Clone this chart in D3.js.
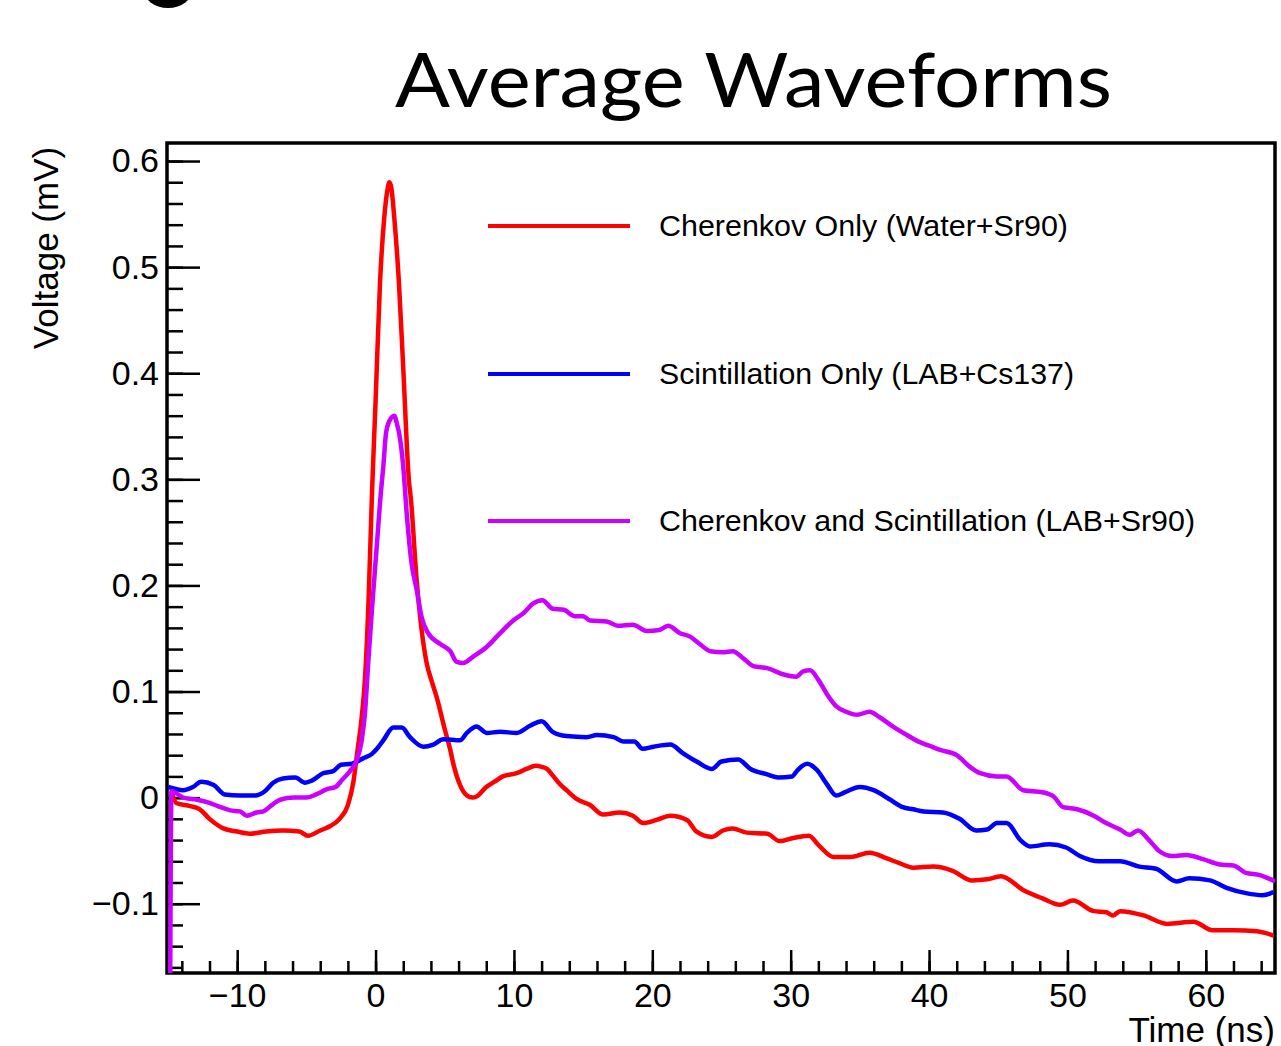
<!DOCTYPE html>
<html>
<head>
<meta charset="utf-8">
<script src="https://cdn.jsdelivr.net/npm/d3@7.9.0/dist/d3.min.js"></script>
<style>
  html, body { margin: 0; padding: 0; background: #fff; overflow: hidden; }
  svg { display: block; }
</style>
</head>
<body>
<svg id="chart"></svg>
<script>
// time (ns), voltage (mV)
const cherenkovOnly = [
  [-14.75, 0.006], [-14.4, -0.005], [-13.4, -0.008], [-12.7, -0.011], [-12.0, -0.020],
  [-11.0, -0.029], [-10.0, -0.032], [-9.1, -0.034], [-7.9, -0.032], [-6.7, -0.031],
  [-5.5, -0.032], [-4.9, -0.036], [-4.0, -0.031], [-3.3, -0.027], [-2.6, -0.020],
  [-2.0, -0.007], [-1.6, 0.015], [-1.35, 0.040], [-1.0, 0.076], [-0.77, 0.111],
  [-0.5, 0.188], [-0.25, 0.290], [0.0, 0.373], [0.32, 0.485], [0.63, 0.547],
  [0.85, 0.572], [1.0, 0.580], [1.15, 0.574], [1.35, 0.547], [1.69, 0.485],
  [2.0, 0.405], [2.41, 0.299], [2.55, 0.282], [2.97, 0.205], [3.33, 0.158],
  [3.69, 0.127], [4.05, 0.110], [4.41, 0.095], [5.01, 0.064], [5.4, 0.045],
  [5.6, 0.033], [6.1, 0.012], [6.6, 0.002], [7.0, 0.000], [7.3, 0.001],
  [8.0, 0.010], [8.6, 0.015], [9.2, 0.020], [10.2, 0.023], [10.9, 0.027],
  [11.6, 0.030], [12.0, 0.029], [12.4, 0.027], [12.8, 0.021], [13.3, 0.013],
  [13.8, 0.007], [14.5, -0.001], [15.5, -0.007], [16.45, -0.016], [17.66, -0.014],
  [18.6, -0.017], [19.34, -0.024], [20.3, -0.021], [21.3, -0.017], [22.5, -0.021],
  [23.2, -0.032], [24.3, -0.037], [25.1, -0.031], [25.8, -0.029], [26.8, -0.033],
  [28.3, -0.034], [29.2, -0.041], [30.2, -0.038], [31.3, -0.036], [32.1, -0.046],
  [33.1, -0.056], [34.3, -0.056], [35.7, -0.052], [36.9, -0.057], [37.9, -0.062],
  [38.85, -0.066], [40.3, -0.065], [41.7, -0.069], [43.1, -0.078], [44.2, -0.077],
  [45.2, -0.074], [46.8, -0.087], [48.2, -0.095], [49.45, -0.101], [50.4, -0.097],
  [51.9, -0.107], [52.8, -0.108], [53.3, -0.111], [53.8, -0.107], [55.5, -0.111],
  [57.2, -0.119], [59.1, -0.117], [60.5, -0.125], [62.0, -0.125], [63.7, -0.126],
  [64.9, -0.130]
];

const scintOnly = [
  [-15.0, 0.010], [-13.9, 0.007], [-13.2, 0.010], [-12.6, 0.015], [-11.7, 0.012],
  [-10.9, 0.003], [-9.8, 0.002], [-8.7, 0.002], [-8.0, 0.006], [-7.4, 0.014],
  [-6.7, 0.018], [-5.8, 0.019], [-5.1, 0.014], [-4.6, 0.016], [-3.8, 0.023],
  [-3.06, 0.025], [-2.5, 0.031], [-1.7, 0.032], [-0.9, 0.037], [-0.28, 0.041],
  [0.1, 0.046], [0.56, 0.054], [1.28, 0.066], [1.89, 0.066], [2.49, 0.057],
  [3.45, 0.048], [4.17, 0.050], [4.9, 0.055], [6.1, 0.054], [6.6, 0.061],
  [7.3, 0.067], [8.03, 0.061], [9.0, 0.062], [10.2, 0.061], [11.2, 0.068],
  [12.0, 0.072], [12.8, 0.062], [13.8, 0.058], [15.25, 0.057], [16.0, 0.059],
  [17.2, 0.057], [17.9, 0.053], [18.7, 0.053], [19.3, 0.046], [20.1, 0.048],
  [21.3, 0.050], [22.2, 0.042], [23.2, 0.034], [24.3, 0.027], [25.0, 0.034],
  [26.2, 0.036], [27.1, 0.027], [28.3, 0.022], [29.1, 0.019], [30.1, 0.020],
  [30.5, 0.026], [31.2, 0.032], [31.9, 0.026], [32.6, 0.013], [33.3, 0.002],
  [33.9, 0.005], [35.0, 0.010], [36.0, 0.007], [37.2, -0.002], [38.1, -0.009],
  [38.85, -0.011], [39.6, -0.013], [41.0, -0.014], [42.2, -0.020], [43.4, -0.031],
  [44.2, -0.030], [44.9, -0.024], [45.6, -0.024], [46.6, -0.040], [47.3, -0.046],
  [48.7, -0.044], [49.9, -0.047], [50.9, -0.055], [52.3, -0.060], [53.8, -0.060],
  [55.2, -0.065], [56.4, -0.067], [57.9, -0.079], [58.8, -0.076], [60.3, -0.078],
  [61.5, -0.085], [62.9, -0.090], [64.1, -0.092], [64.9, -0.089]
];

const cherenkovScint = [
  [-14.85, -0.200], [-14.75, 0.006], [-13.9, 0.000], [-12.9, -0.002], [-12.0, -0.005],
  [-11.2, -0.009], [-10.5, -0.012], [-9.8, -0.013], [-9.3, -0.017], [-8.6, -0.014],
  [-8.1, -0.013], [-7.5, -0.007], [-6.9, -0.002], [-5.9, 0.000], [-5.0, 0.000],
  [-4.3, 0.003], [-3.5, 0.008], [-2.9, 0.010], [-2.4, 0.017], [-1.85, 0.025],
  [-1.4, 0.034], [-1.0, 0.054], [-0.77, 0.079], [-0.53, 0.127], [-0.28, 0.174],
  [0.08, 0.236], [0.4, 0.290], [0.56, 0.312], [0.75, 0.343], [1.0, 0.355],
  [1.35, 0.360], [1.55, 0.352], [1.71, 0.343], [2.0, 0.312], [2.25, 0.268],
  [2.6, 0.221], [2.97, 0.196], [3.33, 0.170], [3.8, 0.155], [4.65, 0.145],
  [5.4, 0.138], [5.86, 0.128], [6.34, 0.127], [7.06, 0.133], [8.03, 0.142],
  [9.0, 0.155], [9.95, 0.167], [10.7, 0.174], [11.4, 0.183], [12.05, 0.186],
  [12.8, 0.178], [13.6, 0.177], [14.4, 0.171], [15.0, 0.171], [15.5, 0.167],
  [16.7, 0.166], [17.5, 0.162], [18.6, 0.163], [19.6, 0.157], [20.5, 0.158],
  [21.15, 0.162], [22.0, 0.155], [22.7, 0.152], [23.4, 0.145], [24.2, 0.138],
  [25.1, 0.137], [25.8, 0.138], [26.6, 0.131], [27.3, 0.124], [28.3, 0.122],
  [29.5, 0.116], [30.4, 0.114], [30.9, 0.119], [31.4, 0.120], [32.0, 0.111],
  [32.6, 0.098], [33.3, 0.086], [34.0, 0.081], [34.8, 0.078], [35.7, 0.081],
  [36.4, 0.076], [37.4, 0.067], [38.4, 0.059], [39.2, 0.053], [40.0, 0.049],
  [40.8, 0.045], [42.0, 0.040], [42.95, 0.029], [43.7, 0.023], [44.9, 0.020],
  [45.6, 0.020], [46.8, 0.007], [48.2, 0.005], [49.0, 0.001], [49.7, -0.009],
  [50.7, -0.011], [51.9, -0.017], [52.8, -0.024], [53.8, -0.030], [54.5, -0.035],
  [55.1, -0.031], [55.9, -0.040], [56.6, -0.050], [57.6, -0.055], [58.6, -0.054],
  [59.8, -0.058], [61.0, -0.063], [62.0, -0.064], [62.9, -0.071], [63.9, -0.073],
  [65.0, -0.079]
];

const seriesNames = [
  "Cherenkov Only (Water+Sr90)",
  "Scintillation Only (LAB+Cs137)",
  "Cherenkov and Scintillation (LAB+Sr90)"
];
const seriesColors = ["#ff0000", "#0000ff", "#cc00ff"];

const xMajorTicks = [-10, 0, 10, 20, 30, 40, 50, 60];
const xMinorTicks = d3.range(-14, 65, 2);
const yMajorTicks = [-0.1, 0, 0.1, 0.2, 0.3, 0.4, 0.5, 0.6];
const yMinorTicks = d3.range(-16, 62, 2).map(d => d / 100);

const svgWidth = 1281;
const svgHeight = 1046;
const plot = { left: 168, right: 1275, top: 143, bottom: 973 };

const svg = d3.select("#chart")
    .attr("width", svgWidth)
    .attr("height", svgHeight);

const xScale = d3.scaleLinear().domain([-15, 65]).range([plot.left, plot.right]);
const yScale = d3.scaleLinear().domain([-0.1653, 0.617]).range([plot.bottom, plot.top]);

const fmtY = d => d === 0 ? "0" : (d < 0 ? "\u2212" + Math.abs(d) : String(d));
const fmtX = d => d < 0 ? "\u2212" + Math.abs(d) : String(d);

// clip for the waveforms
svg.append("defs").append("clipPath")
    .attr("id", "plot-clip")
    .append("rect")
    .attr("x", plot.left)
    .attr("y", plot.top)
    .attr("width", plot.right - plot.left)
    .attr("height", plot.bottom - plot.top);

// stray glyph at top left of the reference
svg.append("ellipse")
    .attr("cx", 168).attr("cy", -12)
    .attr("rx", 25).attr("ry", 20)
    .attr("fill", "#000");

// title
svg.append("text")
    .attr("x", 395)
    .attr("y", 107)
    .attr("textLength", 717)
    .attr("lengthAdjust", "spacingAndGlyphs")
    .style("font-family", "Lato, 'Open Sans', sans-serif")
    .style("font-size", "75px")
    .text("Average Waveforms");

// axes (ticks pointing inward)
svg.append("g")
    .attr("transform", `translate(${plot.left}, 0)`)
    .call(d3.axisLeft(yScale).tickValues(yMinorTicks).tickSize(-15).tickFormat(""));

svg.append("g")
    .attr("transform", `translate(${plot.left}, 0)`)
    .call(d3.axisLeft(yScale).tickValues(yMajorTicks).tickSize(-32).tickPadding(9).tickFormat(fmtY));

svg.append("g")
    .attr("transform", `translate(0, ${plot.bottom})`)
    .call(d3.axisBottom(xScale).tickValues(xMinorTicks).tickSize(-12).tickFormat(""));

svg.append("g")
    .attr("transform", `translate(0, ${plot.bottom})`)
    .call(d3.axisBottom(xScale).tickValues(xMajorTicks).tickSize(-23).tickPadding(10).tickFormat(fmtX));

svg.selectAll(".domain").remove();
svg.selectAll(".tick line").attr("stroke", "#000").attr("stroke-width", 2.5);
svg.selectAll(".tick text")
    .attr("fill", "#000")
    .style("font-family", "'Liberation Sans', Arial, sans-serif")
    .style("font-size", "34px");

// frame
svg.append("rect")
    .attr("x", plot.left - 1)
    .attr("y", plot.top)
    .attr("width", plot.right - plot.left + 1)
    .attr("height", plot.bottom - plot.top)
    .attr("fill", "none")
    .attr("stroke", "#000")
    .attr("stroke-width", 3.5);

// axis titles
svg.append("text")
    .attr("transform", "rotate(-90)")
    .attr("x", -248)
    .attr("y", 58)
    .attr("text-anchor", "middle")
    .style("font-family", "'Liberation Sans', Arial, sans-serif")
    .style("font-size", "35px")
    .text("Voltage (mV)");

svg.append("text")
    .attr("x", plot.right)
    .attr("y", 1042)
    .attr("text-anchor", "end")
    .style("font-family", "'Liberation Sans', Arial, sans-serif")
    .style("font-size", "35px")
    .text("Time (ns)");

// waveforms
const line = d3.line()
    .x(d => xScale(d[0]))
    .y(d => yScale(d[1]))
    .curve(d3.curveMonotoneX);

const waves = [cherenkovOnly, scintOnly, cherenkovScint];
const waveG = svg.append("g").attr("clip-path", "url(#plot-clip)");
waves.forEach((w, i) => {
    waveG.append("path")
        .datum(w)
        .attr("d", line)
        .attr("fill", "none")
        .attr("stroke", seriesColors[i])
        .attr("stroke-width", 4.5)
        .attr("stroke-linejoin", "round");
});

// legend
const legend = svg.append("g");
const legendY = [226, 374, 521];
const legendTextWidth = [409, 415, 536];
seriesNames.forEach((name, i) => {
    legend.append("line")
        .attr("x1", 488).attr("x2", 630)
        .attr("y1", legendY[i]).attr("y2", legendY[i])
        .attr("stroke", seriesColors[i])
        .attr("stroke-width", 4);
    legend.append("text")
        .attr("x", 659)
        .attr("y", legendY[i] + 10)
        .attr("textLength", legendTextWidth[i])
        .attr("lengthAdjust", "spacingAndGlyphs")
        .style("font-family", "'Liberation Sans', Arial, sans-serif")
        .style("font-size", "29px")
        .text(name);
});
</script>
</body>
</html>
